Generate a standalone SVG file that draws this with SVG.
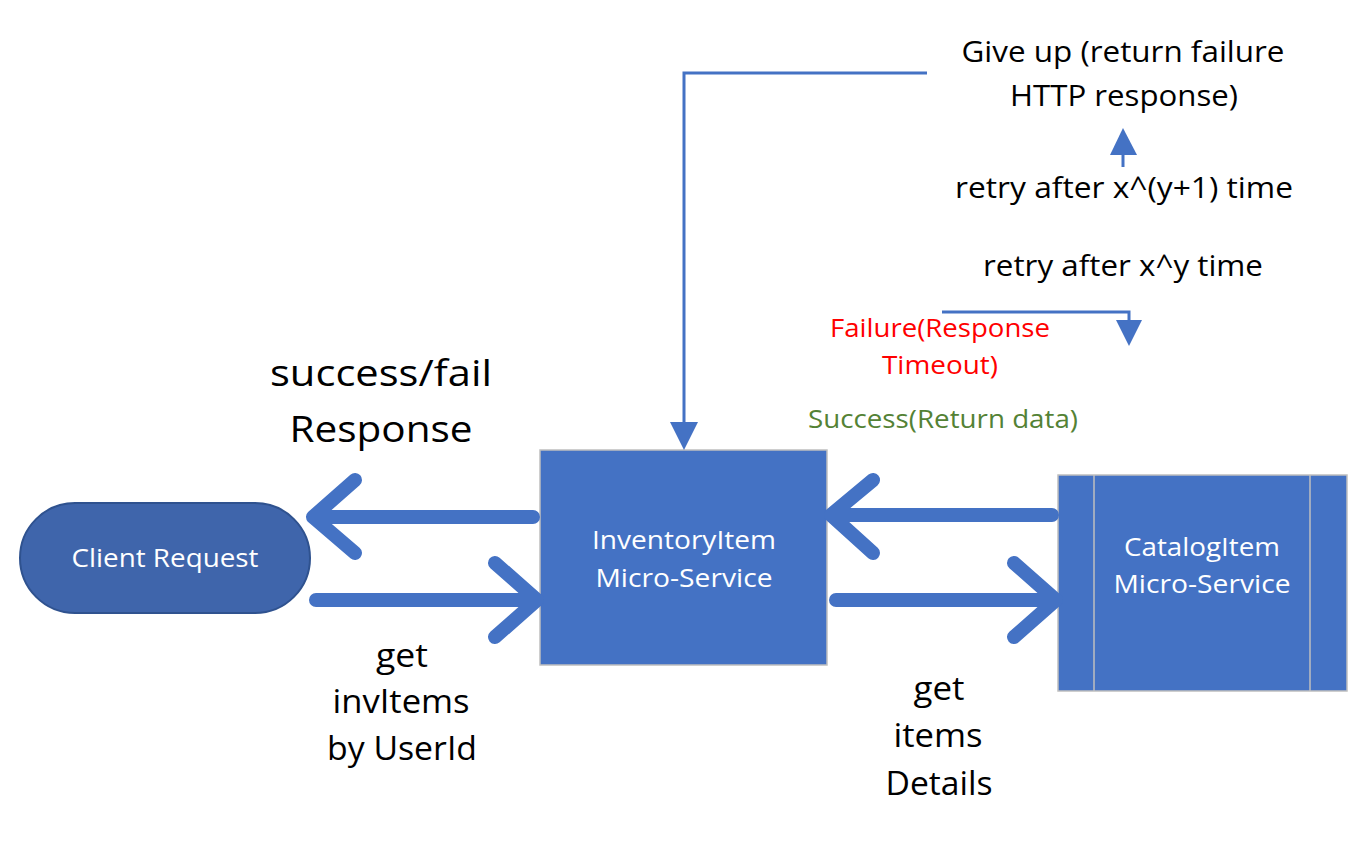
<svg xmlns="http://www.w3.org/2000/svg" width="1368" height="849" viewBox="0 0 1368 849">
<defs>
<style>
.t{font-family:"Open Sans","Liberation Sans",sans-serif;text-anchor:middle}
.w{fill:#fff;font-size:26px}
.k{fill:#000}
.box{fill:#4472C4;stroke:#BFBFBF;stroke-width:1.5}
.big{fill:none;stroke:#4472C4;stroke-width:14;stroke-linecap:round;stroke-linejoin:round}
.thin{fill:none;stroke:#4472C4;stroke-width:3}
.head{fill:#4472C4}
</style>
</defs>
<rect width="1368" height="849" fill="#fff"/>
<g id="client">
<rect x="20" y="503" width="290" height="110" rx="55" ry="55" fill="#3F65AB" stroke="#2F528F" stroke-width="2"/>
<text class="t w" x="165" y="567" textLength="187" lengthAdjust="spacingAndGlyphs">Client Request</text>
</g>
<g id="inventory">
<rect class="box" x="540" y="450" width="287" height="215"/>
<text class="t w" x="684" y="549" textLength="184" lengthAdjust="spacingAndGlyphs">InventoryItem</text>
<text class="t w" x="684" y="587" textLength="177" lengthAdjust="spacingAndGlyphs">Micro-Service</text>
</g>
<g id="catalog">
<rect class="box" x="1058" y="475" width="289" height="216"/>
<line x1="1094" y1="475" x2="1094" y2="691" stroke="#BFBFBF" stroke-width="1.5"/>
<line x1="1310" y1="475" x2="1310" y2="691" stroke="#BFBFBF" stroke-width="1.5"/>
<text class="t w" x="1202" y="556" textLength="156" lengthAdjust="spacingAndGlyphs">CatalogItem</text>
<text class="t w" x="1202" y="593" textLength="177" lengthAdjust="spacingAndGlyphs">Micro-Service</text>
</g>
<g id="connectors">
<path class="big" d="M533 517H313M355 480L313 517L355 553"/>
<path class="big" d="M316 600H537M495 563L537 600L495 637"/>
<path class="big" d="M1052 515H831M873 480L831 515L873 553"/>
<path class="big" d="M836 600H1056M1014 563L1056 600L1014 637"/>
<path class="thin" d="M927 73H684V424"/>
<polygon class="head" points="670,422 698,422 684,450"/>
<path class="thin" d="M942 312H1129V321"/>
<polygon class="head" points="1116,320 1142,320 1129,346"/>
<path class="thin" d="M1123 167V153"/>
<polygon class="head" points="1110,155 1137,155 1123,128"/>
</g>
<g id="labels">
<text class="t k" x="1123" y="62" font-size="29" textLength="323" lengthAdjust="spacingAndGlyphs">Give up (return failure</text>
<text class="t k" x="1124" y="106" font-size="29" textLength="228" lengthAdjust="spacingAndGlyphs">HTTP response)</text>
<text class="t k" x="1124" y="198" font-size="29" textLength="338" lengthAdjust="spacingAndGlyphs">retry after x^(y+1) time</text>
<text class="t k" x="1123" y="276" font-size="29" textLength="280" lengthAdjust="spacingAndGlyphs">retry after x^y time</text>
<text class="t" x="940" y="337" font-size="25" fill="#FF0000" textLength="220" lengthAdjust="spacingAndGlyphs">Failure(Response</text>
<text class="t" x="940" y="374" font-size="25" fill="#FF0000" textLength="116" lengthAdjust="spacingAndGlyphs">Timeout)</text>
<text class="t" x="943" y="428" font-size="25" fill="#548235" textLength="270" lengthAdjust="spacingAndGlyphs">Success(Return data)</text>
<text class="t k" x="381" y="386" font-size="37" textLength="222" lengthAdjust="spacingAndGlyphs">success/fail</text>
<text class="t k" x="381" y="442" font-size="37" textLength="183" lengthAdjust="spacingAndGlyphs">Response</text>
<text class="t k" x="402" y="667" font-size="32" textLength="52" lengthAdjust="spacingAndGlyphs">get</text>
<text class="t k" x="401" y="713" font-size="32" textLength="137" lengthAdjust="spacingAndGlyphs">invItems</text>
<text class="t k" x="402" y="760" font-size="32" textLength="150" lengthAdjust="spacingAndGlyphs">by UserId</text>
<text class="t k" x="939" y="700" font-size="32" textLength="51" lengthAdjust="spacingAndGlyphs">get</text>
<text class="t k" x="938" y="747" font-size="32" textLength="89" lengthAdjust="spacingAndGlyphs">items</text>
<text class="t k" x="939" y="795" font-size="32" textLength="107" lengthAdjust="spacingAndGlyphs">Details</text>
</g>
</svg>
